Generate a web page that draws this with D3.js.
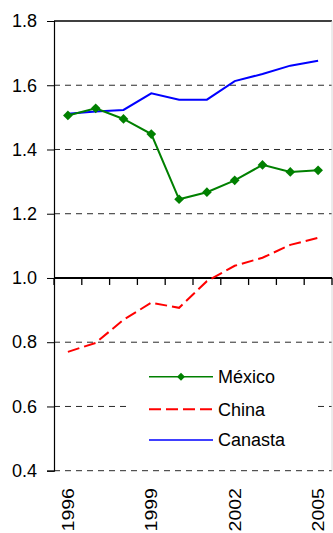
<!DOCTYPE html>
<html>
<head>
<meta charset="utf-8">
<script src="https://cdn.jsdelivr.net/npm/d3@7"></script>
<style>
  html, body { margin: 0; padding: 0; background: #fff; }
  svg { display: block; font-family: "Liberation Sans", Arial, sans-serif; }
</style>
</head>
<body>
<svg id="chart" width="333" height="533"></svg>
<script>
// Data: index values by year
const years = [1996, 1997, 1998, 1999, 2000, 2001, 2002, 2003, 2004, 2005];
const mexico = [1.506, 1.528, 1.495, 1.448, 1.245, 1.267, 1.304, 1.352, 1.330, 1.335];
const china = [0.770, 0.798, 0.870, 0.923, 0.907, 0.990, 1.038, 1.063, 1.103, 1.125];
const canasta = [1.511, 1.518, 1.523, 1.575, 1.555, 1.555, 1.613, 1.635, 1.661, 1.676];
const yTicks = [0.4, 0.6, 0.8, 1.0, 1.2, 1.4, 1.6, 1.8];
const yearLabels = [1996, 1999, 2002, 2005];
const seriesNames = ["México", "China", "Canasta"];

const svg = d3.select("#chart");
const plotLeft = 54, plotRight = 332, plotTop = 21, plotBottom = 470.7;

const x = d3.scaleBand().domain(years).range([plotLeft, plotRight]).padding(0);
const y = d3.scaleLinear().domain([0.4, 1.8]).range([plotBottom, plotTop]);
const cx = d => x(d) + x.bandwidth() / 2;

// Horizontal dashed gridlines
svg.append("g").selectAll("line")
  .data(yTicks.filter(t => t !== 1.0 && t !== 1.8))
  .join("line")
  .attr("x1", plotLeft).attr("x2", plotRight)
  .attr("y1", d => y(d)).attr("y2", d => y(d))
  .attr("stroke", "#2a2a2a").attr("stroke-width", 1)
  .attr("stroke-dasharray", "6,5");

// Top frame line and light right edge
svg.append("line").attr("x1", plotLeft).attr("x2", plotRight)
  .attr("y1", y(1.8)).attr("y2", y(1.8))
  .attr("stroke", "#000").attr("stroke-width", 1.3);
svg.append("line").attr("x1", plotRight).attr("x2", plotRight)
  .attr("y1", plotTop).attr("y2", plotBottom)
  .attr("stroke", "#d8d8d8").attr("stroke-width", 1);

// Left value axis
const yAxis = d3.axisLeft(y).tickValues(yTicks).tickSize(7).tickPadding(10)
  .tickFormat(d3.format(".1f"));
const gy = svg.append("g").attr("transform", `translate(${plotLeft},0)`).call(yAxis);
gy.select(".domain").attr("stroke", "#000").attr("stroke-width", 1.2);
gy.selectAll(".tick line").attr("stroke", "#000");
gy.selectAll(".tick text").attr("font-size", 18).attr("fill", "#000")
  .attr("font-family", "Liberation Sans, Arial, sans-serif");

// Category axis crossing at 1.0, ticks at band edges
const edges = years.map(d => x(d)).concat([plotRight]);
svg.append("line").attr("x1", plotLeft).attr("x2", plotRight)
  .attr("y1", y(1.0)).attr("y2", y(1.0))
  .attr("stroke", "#000").attr("stroke-width", 2);
svg.append("g").selectAll("line").data(edges).join("line")
  .attr("x1", d => d).attr("x2", d => d)
  .attr("y1", y(1.0)).attr("y2", y(1.0) + 7)
  .attr("stroke", "#000").attr("stroke-width", 1.3);

// Rotated year labels under the plot (slightly stretched along the text direction)
svg.append("g").selectAll("text").data(yearLabels).join("text")
  .attr("transform", d => `translate(${cx(d)},488) rotate(-90) scale(1.15,1)`)
  .attr("text-anchor", "end").attr("dy", "0.35em")
  .attr("font-size", 17).attr("fill", "#000")
  .text(d => d);

// Series lines
const line = vals => d3.line().x((v, i) => cx(years[i])).y(v => y(v))(vals);

svg.append("path").attr("d", line(canasta))
  .attr("fill", "none").attr("stroke", "#0000ff").attr("stroke-width", 2);
svg.append("path").attr("d", line(china))
  .attr("fill", "none").attr("stroke", "#ff0000").attr("stroke-width", 2)
  .attr("stroke-dasharray", "12,5");
svg.append("path").attr("d", line(mexico))
  .attr("fill", "none").attr("stroke", "#008000").attr("stroke-width", 2);

const diamond = d3.symbol().type(d3.symbolDiamond2).size(60);
svg.append("g").selectAll("path").data(mexico).join("path")
  .attr("d", diamond)
  .attr("transform", (v, i) => `translate(${cx(years[i])},${y(v)})`)
  .attr("fill", "#008000");

// Legend
const legendX0 = 149, legendX1 = 213, legendRows = [376.7, 409.3, 440];
svg.append("rect").attr("x", 126).attr("y", 360).attr("width", 187).attr("height", 95)
  .attr("fill", "#fff");
const styles = [
  { color: "#008000", dash: null, width: 1.6, marker: true },
  { color: "#ff0000", dash: "12,5", width: 2, marker: false },
  { color: "#0000ff", dash: null, width: 1.6, marker: false }
];
const lg = svg.append("g").selectAll("g").data(seriesNames).join("g")
  .attr("transform", (d, i) => `translate(0,${legendRows[i]})`);
lg.append("line").attr("x1", legendX0).attr("x2", legendX1)
  .attr("stroke", (d, i) => styles[i].color)
  .attr("stroke-width", (d, i) => styles[i].width)
  .attr("stroke-dasharray", (d, i) => styles[i].dash);
lg.filter((d, i) => styles[i].marker).append("path")
  .attr("d", d3.symbol().type(d3.symbolDiamond2).size(40))
  .attr("transform", `translate(${(legendX0 + legendX1) / 2},0)`)
  .attr("fill", "#008000");
lg.append("text").attr("x", legendX1 + 5).attr("dy", "0.35em")
  .attr("font-size", 18).attr("fill", "#000")
  .text(d => d);
</script>
</body>
</html>
